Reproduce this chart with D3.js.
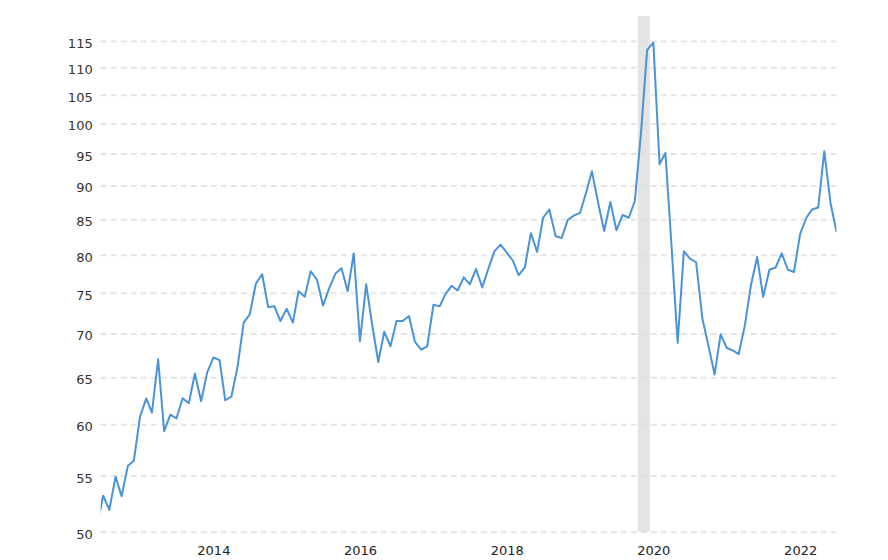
<!DOCTYPE html>
<html>
<head>
<meta charset="utf-8">
<script src="https://cdn.jsdelivr.net/npm/d3@7"></script>
<style>
  html, body { margin: 0; padding: 0; background: #fff; }
  svg { display: block; }
  text { font-family: "DejaVu Sans", Verdana, sans-serif; }
</style>
</head>
<body>
<svg id="chart" width="888" height="560"></svg>
<script>
// ---- data ----
const firstMonth = "2012-06";
const values = [
  50.4, 53.15, 51.9, 54.9, 53.1, 55.9, 56.4, 60.8, 62.7, 61.2,
  67.0, 59.3, 61.0, 60.6, 62.7, 62.2, 65.4, 62.4, 65.5, 67.2,
  66.9, 62.5, 62.9, 66.1, 71.3, 72.3, 76.2, 77.4, 73.2, 73.3,
  71.5, 73.0, 71.3, 75.2, 74.5, 77.8, 76.7, 73.4, 75.6, 77.5,
  78.2, 75.2, 80.2, 69.1, 76.1, 71.2, 66.7, 70.2, 68.5, 71.5,
  71.5, 72.1, 69.0, 68.1, 68.5, 73.5, 73.3, 74.8, 75.9, 75.3,
  77.0, 76.1, 78.1, 75.7, 78.1, 80.5, 81.4, 80.3, 79.2, 77.3,
  78.3, 83.0, 80.4, 85.2, 86.4, 82.6, 82.3, 84.9, 85.5, 85.9,
  89.0, 92.2, 87.4, 83.3, 87.5, 83.4, 85.6, 85.2, 87.7, 98.6,
  113.3, 114.7, 93.3, 95.1, 81.0, 68.9, 80.5, 79.5, 79.0, 71.8,
  68.6, 65.3, 69.9, 68.3, 68.0, 67.6, 71.0, 76.0, 79.7, 74.5,
  78.0, 78.3, 80.2, 78.0, 77.7, 82.9, 85.2, 86.4, 86.7, 95.4,
  87.4, 83.2
];
const yTicks = [50, 55, 60, 65, 70, 75, 80, 85, 90, 95, 100, 105, 110, 115];
const xTickYears = [2014, 2016, 2018, 2020, 2022];
const recession = ["2019-10-15", "2019-12-15"];
const xDomain = ["2012-06-19", "2022-07-01"];
const yDomain = [50, 120];

// ---- build ----
const parseMonth = d3.timeParse("%Y-%m");
const parseDay = d3.timeParse("%Y-%m-%d");
const startMonth = parseMonth(firstMonth);
const dates = d3.timeMonth.range(startMonth, d3.timeMonth.offset(startMonth, values.length));
const data = dates.map((d, i) => ({ date: d, value: values[i] }));

const svg = d3.select("#chart");
const plotL = 100.7, plotR = 836.5, plotT = 16, plotB = 531.7;

const x = d3.scaleTime().domain(xDomain.map(parseDay)).range([plotL, plotR]);
const y = d3.scaleLog().domain(yDomain).range([plotB, plotT]);

svg.append("defs").append("clipPath").attr("id", "clip")
  .append("rect").attr("x", plotL).attr("y", 0).attr("width", plotR - plotL).attr("height", plotB);

// recession band
svg.append("rect")
  .attr("x", x(parseDay(recession[0])))
  .attr("y", plotT)
  .attr("width", x(parseDay(recession[1])) - x(parseDay(recession[0])))
  .attr("height", plotB - plotT)
  .attr("fill", "#e4e4e4");

// grid
const yAxis = d3.axisLeft(y).tickValues(yTicks).tickSize(-(plotR - plotL)).tickFormat(d3.format("d"));
const gy = svg.append("g").attr("transform", `translate(${plotL},0)`).call(yAxis);
gy.select(".domain").remove();
gy.selectAll(".tick line")
  .attr("stroke", "#dcdcdc").attr("stroke-opacity", 0.75)
  .attr("stroke-width", 2).attr("stroke-dasharray", "6,4");
gy.selectAll(".tick text")
  .attr("x", -8).attr("dy", "0.5em")
  .attr("fill", "#333").style("font-size", "13px");

// x axis labels
const xAxis = d3.axisBottom(x)
  .tickValues(xTickYears.map(yv => new Date(yv, 0, 1)))
  .tickSize(0).tickFormat(d3.timeFormat("%Y"));
const gx = svg.append("g").attr("transform", `translate(0,${plotB})`).call(xAxis);
gx.select(".domain").remove();
gx.selectAll(".tick text")
  .attr("y", 14).attr("dy", "0.71em")
  .attr("fill", "#222").style("font-size", "13px");

// line
const line = d3.line().x(d => x(d.date)).y(d => y(d.value));
svg.append("path")
  .datum(data)
  .attr("clip-path", "url(#clip)")
  .attr("fill", "none")
  .attr("stroke", "#4b93d7")
  .attr("stroke-width", 2)
  .attr("stroke-linejoin", "round")
  .attr("d", line);
</script>
</body>
</html>
